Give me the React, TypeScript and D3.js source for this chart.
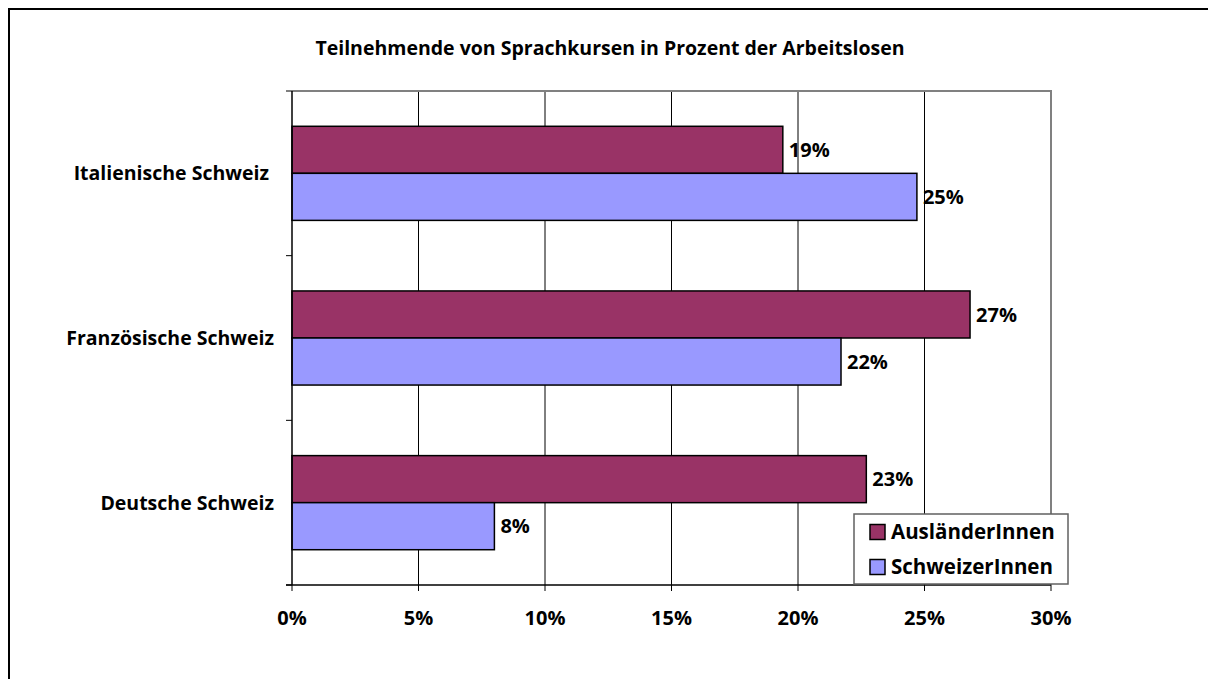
import React, { useEffect, useRef } from "react";
import * as d3 from "d3";

const title = "Teilnehmende von Sprachkursen in Prozent der Arbeitslosen";
const categories = ["Italienische Schweiz ", "Französische Schweiz", "Deutsche Schweiz"];
const seriesNames = ["AusländerInnen", "SchweizerInnen"];
const auslaender = [19.4, 26.8, 22.7];
const schweizer = [24.7, 21.7, 8.0];
const xTicks = [0, 5, 10, 15, 20, 25, 30];
const colors = ["#993366", "#9999FF"];

const FONT = "'Open Sans', 'DejaVu Sans', sans-serif";

const App = () => {
  const svgRef = useRef<SVGSVGElement>(null);

  useEffect(() => {
    const svg = d3.select(svgRef.current);
    svg.selectAll("*").remove();

    const left = 292, right = 1051, top = 91, bottom = 585;

    // outer frame (continues beyond the window on right and bottom)
    svg.append("rect")
      .attr("x", 9).attr("y", 9)
      .attr("width", 1240).attr("height", 700)
      .attr("fill", "white")
      .attr("stroke", "black")
      .attr("stroke-width", 2);

    svg.append("text")
      .attr("x", 610).attr("y", 55)
      .attr("text-anchor", "middle")
      .style("font-family", FONT)
      .style("font-weight", "bold")
      .style("font-size", "19.5px")
      .text(title);

    const x = d3.scaleLinear().domain([0, 30]).range([left, right]);
    const y = d3.scaleBand().domain(categories).range([top, bottom]);
    // Excel gap width 150%
    const barH = y.bandwidth() / 3.5;

    // gridlines
    svg.append("g")
      .selectAll("line")
      .data(xTicks.filter(t => t > 0 && t < 30))
      .join("line")
      .attr("x1", d => x(d)).attr("x2", d => x(d))
      .attr("y1", top).attr("y2", bottom)
      .attr("stroke", "black")
      .attr("stroke-width", 1);

    // plot area border (grey, top & right)
    svg.append("path")
      .attr("d", `M${left},${top}H${right}V${bottom}`)
      .attr("fill", "none")
      .attr("stroke", "#808080")
      .attr("stroke-width", 2);

    const rows = categories.map((c, i) => ({ c, vals: [auslaender[i], schweizer[i]] }));

    const g = svg.append("g");
    rows.forEach(row => {
      row.vals.forEach((v, si) => {
        const by = (y(row.c) as number) + y.bandwidth() / 2 - barH + si * barH;
        g.append("rect")
          .attr("x", x(0))
          .attr("y", by)
          .attr("width", x(v) - x(0))
          .attr("height", barH)
          .attr("fill", colors[si])
          .attr("stroke", "black")
          .attr("stroke-width", 1.5);
        g.append("text")
          .attr("x", x(v) + 6)
          .attr("y", by + barH / 2)
          .attr("dy", "0.36em")
          .style("font-family", FONT)
          .style("font-weight", "bold")
          .style("font-size", "20px")
          .text(`${Math.round(v)}%`);
      });
    });

    // y axis
    const ya = svg.append("g");
    ya.append("line")
      .attr("x1", left).attr("x2", left)
      .attr("y1", top).attr("y2", bottom)
      .attr("stroke", "black").attr("stroke-width", 1.5);
    const yTickPos = [top, ...categories.map(c => (y(c) as number) + y.bandwidth())];
    ya.selectAll("line.tick")
      .data(yTickPos)
      .join("line")
      .attr("class", "tick")
      .attr("x1", left - 6).attr("x2", left)
      .attr("y1", d => d).attr("y2", d => d)
      .attr("stroke", "black").attr("stroke-width", 1);
    ya.selectAll("text")
      .data(categories)
      .join("text")
      .attr("x", 274)
      .attr("y", d => (y(d) as number) + y.bandwidth() / 2)
      .attr("dy", "0.36em")
      .attr("text-anchor", "end")
      .style("white-space", "pre")
      .style("font-family", FONT)
      .style("font-weight", "bold")
      .style("font-size", "19.5px")
      .text(d => d);

    // x axis
    const xa = svg.append("g");
    xa.append("line")
      .attr("x1", left - 6).attr("x2", right)
      .attr("y1", bottom).attr("y2", bottom)
      .attr("stroke", "black").attr("stroke-width", 1.5);
    xa.selectAll("line.tick")
      .data(xTicks)
      .join("line")
      .attr("class", "tick")
      .attr("x1", d => x(d)).attr("x2", d => x(d))
      .attr("y1", bottom).attr("y2", bottom + 6)
      .attr("stroke", "black").attr("stroke-width", 1);
    xa.selectAll("text")
      .data(xTicks)
      .join("text")
      .attr("x", d => x(d))
      .attr("y", 618)
      .attr("dy", "0.36em")
      .attr("text-anchor", "middle")
      .style("font-family", FONT)
      .style("font-weight", "bold")
      .style("font-size", "20px")
      .text(d => `${d}%`);

    // legend
    const lg = svg.append("g");
    lg.append("rect")
      .attr("x", 854).attr("y", 514)
      .attr("width", 214).attr("height", 70)
      .attr("fill", "white")
      .attr("stroke", "#606060")
      .attr("stroke-width", 1.5);
    seriesNames.forEach((s, i) => {
      const cy = 532 + i * 35;
      lg.append("rect")
        .attr("x", 870).attr("y", cy - 7.5)
        .attr("width", 15).attr("height", 15)
        .attr("fill", colors[i])
        .attr("stroke", "black")
        .attr("stroke-width", 1.5);
      lg.append("text")
        .attr("x", 891).attr("y", cy)
        .attr("dy", "0.36em")
        .style("font-family", FONT)
        .style("font-weight", "bold")
        .style("font-size", "20.5px")
        .text(s);
    });
  }, []);

  return (
    <svg
      ref={svgRef}
      width={1208}
      height={679}
      style={{ position: "absolute", left: 0, top: 0, background: "white" }}
    ></svg>
  );
};

export default App;
